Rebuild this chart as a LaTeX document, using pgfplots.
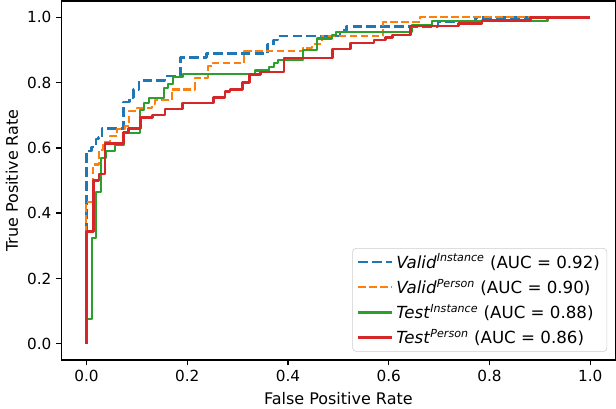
\documentclass[border=0pt]{standalone}
\usepackage{fontspec}
\setmainfont{DejaVu Sans}
\usepackage{pgfplots}
\pgfplotsset{compat=1.18}

\definecolor{tabblue}{HTML}{1F77B4}
\definecolor{taborange}{HTML}{FF7F0E}
\definecolor{tabgreen}{HTML}{2CA02C}
\definecolor{tabred}{HTML}{D62728}

\begin{document}
\begin{tikzpicture}
\begin{axis}[
    name=ax,
    scale only axis,
    width=399pt, height=258.5pt,
    xmin=-0.05, xmax=1.05,
    ymin=-0.05, ymax=1.05,
    axis line style={line width=1pt},
    tick align=outside,
    major tick length=3.6pt,
    every tick/.style={black, line width=1pt},
    xtick={0,0.2,0.4,0.6,0.8,1},
    ytick={0,0.2,0.4,0.6,0.8,1},
    xtick pos=left, ytick pos=left,
    minor tick num=0,
    ticklabel style={font=\fontsize{11}{13}\selectfont,
        /pgf/number format/.cd, fixed, fixed zerofill, precision=1,
        assume math mode=true},
    xlabel={False Positive Rate},
    ylabel={True Positive Rate},
    label style={font=\fontsize{11.5}{14}\selectfont},
    xlabel style={at={(axis description cs:0.5,0)}, anchor=center, yshift=-27.5pt},
    ylabel style={at={(axis description cs:0,0.5)}, anchor=center, yshift=35.5pt},
    legend cell align=left,
    legend image code/.code={\draw[#1] (0pt,0pt) -- (24.5pt,0pt);},
    legend style={at={(1,0)}, anchor=south east, xshift=-6pt, yshift=6pt,
        draw=black!20, rounded corners=2.5pt, fill=white,
        font=\fontsize{12}{14}\selectfont,
        inner xsep=3pt, inner ysep=2pt, row sep=2.5pt,
        /tikz/every even column/.style={column sep=13pt}},
    every axis plot/.append style={no marks, line join=round},
]
% Valid Instance
\addplot[tabblue, line width=1.9pt, dash pattern=on 7pt off 3pt] coordinates {
(0,0) (0,0.591) (0.0103,0.591) (0.0103,0.603) (0.019,0.603) (0.019,0.627)
(0.0234,0.627) (0.0234,0.631) (0.031,0.631) (0.031,0.66) (0.073,0.66)
(0.073,0.741) (0.085,0.741) (0.085,0.754) (0.093,0.754) (0.093,0.779)
(0.104,0.779) (0.104,0.807) (0.156,0.807) (0.156,0.820) (0.1865,0.820)
(0.1865,0.876) (0.2385,0.876) (0.2385,0.889) (0.3595,0.889) (0.3595,0.916)
(0.371,0.916) (0.371,0.930) (0.38,0.930) (0.38,0.943) (0.503,0.943)
(0.503,0.959) (0.516,0.959) (0.516,0.972) (0.698,0.972) (0.698,0.986)
(0.772,0.986) (0.772,1) (1,1)
};
\addlegendentry{\textit{Valid}\textsuperscript{\textit{Instance}} (AUC = 0.92)}
% Valid Person
\addplot[taborange, line width=1.5pt, dash pattern=on 5.5pt off 2.4pt] coordinates {
(0,0) (0,0.435) (0.0123,0.435) (0.0123,0.549) (0.0254,0.549) (0.0254,0.594)
(0.033,0.594) (0.033,0.619) (0.0466,0.619) (0.0466,0.637) (0.06,0.637)
(0.06,0.657) (0.0764,0.657) (0.0764,0.667) (0.085,0.667) (0.085,0.713)
(0.0996,0.713) (0.0996,0.721) (0.131,0.721) (0.131,0.735) (0.136,0.735)
(0.136,0.746) (0.169,0.746) (0.169,0.779) (0.215,0.779) (0.215,0.815)
(0.242,0.815) (0.242,0.850) (0.2516,0.850) (0.2516,0.860) (0.3135,0.860)
(0.3135,0.896) (0.429,0.896) (0.429,0.906) (0.447,0.906) (0.447,0.918)
(0.467,0.918) (0.467,0.942) (0.589,0.942) (0.589,0.986) (0.662,0.986)
(0.662,1) (1,1)
};
\addlegendentry{\textit{Valid}\textsuperscript{\textit{Person}} (AUC = 0.90)}
% Test Instance
\addplot[tabgreen, line width=1.5pt] coordinates {
(0,0) (0,0.075) (0.0103,0.075) (0.0103,0.323) (0.019,0.323) (0.019,0.464)
(0.028,0.464) (0.028,0.570) (0.039,0.570) (0.039,0.591) (0.057,0.591)
(0.057,0.609) (0.075,0.609) (0.075,0.647) (0.106,0.647) (0.106,0.715)
(0.115,0.715) (0.115,0.738) (0.125,0.738) (0.125,0.752) (0.154,0.752)
(0.154,0.784) (0.162,0.784) (0.162,0.797) (0.172,0.797) (0.172,0.817)
(0.192,0.817) (0.192,0.827) (0.334,0.827) (0.334,0.837) (0.362,0.837)
(0.362,0.847) (0.373,0.847) (0.373,0.859) (0.381,0.859) (0.381,0.869)
(0.429,0.869) (0.429,0.901) (0.458,0.901) (0.458,0.935) (0.487,0.935)
(0.487,0.945) (0.496,0.945) (0.496,0.954) (0.646,0.954) (0.646,0.976)
(0.686,0.976) (0.686,0.988) (0.915,0.988) (0.915,1) (1,1)
};
\addlegendentry{\textit{Test}\textsuperscript{\textit{Instance}} (AUC = 0.88)}
% Test Person
\addplot[tabred, line width=1.9pt] coordinates {
(0,0) (0,0.344) (0.0135,0.344) (0.0135,0.501) (0.025,0.501) (0.025,0.52)
(0.037,0.52) (0.037,0.613) (0.073,0.613) (0.073,0.647) (0.084,0.647)
(0.084,0.659) (0.107,0.659) (0.107,0.693) (0.131,0.693) (0.131,0.701)
(0.156,0.701) (0.156,0.719) (0.191,0.719) (0.191,0.738) (0.252,0.738)
(0.252,0.754) (0.275,0.754) (0.275,0.772) (0.285,0.772) (0.285,0.779)
(0.31,0.779) (0.31,0.80) (0.323,0.80) (0.323,0.825) (0.345,0.825)
(0.345,0.833) (0.392,0.833) (0.392,0.875) (0.488,0.875) (0.488,0.903)
(0.524,0.903) (0.524,0.921) (0.571,0.921) (0.571,0.93) (0.594,0.93)
(0.594,0.939) (0.607,0.939) (0.607,0.946) (0.643,0.946) (0.643,0.973)
(0.739,0.973) (0.739,0.981) (0.785,0.981) (0.785,0.991) (0.881,0.991)
(0.881,1) (1,1)
};
\addlegendentry{\textit{Test}\textsuperscript{\textit{Person}} (AUC = 0.86)}
\end{axis}
\pgfresetboundingbox
\path (ax.south west) ++(-44.1pt,-34.6pt) rectangle ([shift={(0.36pt,0.72pt)}]ax.north east);
\end{tikzpicture}
\end{document}
